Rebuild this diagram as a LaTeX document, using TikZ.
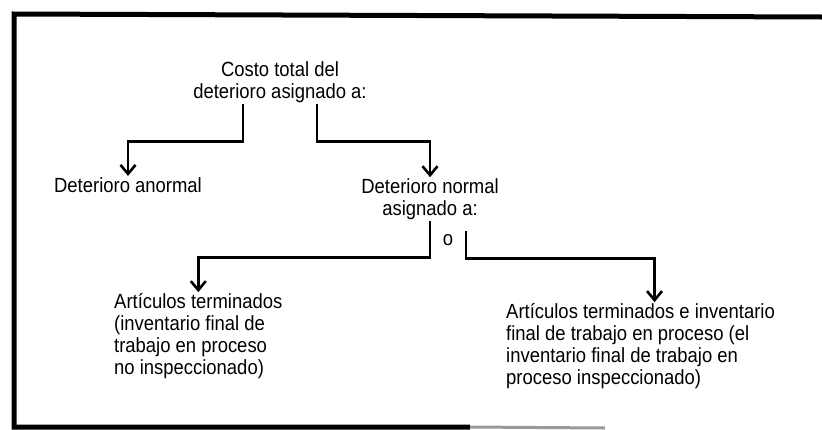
\documentclass[tikz,border=0pt]{standalone}
\usepackage{fontspec}
\setmainfont{Liberation Sans}[FakeStretch=0.9]
\usetikzlibrary{arrows.meta}

\begin{document}
\begin{tikzpicture}[x=1pt,y=-1pt,
  lbl/.style={font=\fontsize{20.5}{22}\selectfont,inner sep=1pt},
  link/.style={line width=2.6pt,-{Straight Barb[length=9pt,width=15pt]}}]
  \useasboundingbox (0,0) rectangle (822,429);
  \draw[line width=5pt] (822,17) -- (14,14) -- (14,427) -- (470,427);
  \draw[line width=3pt,black!40] (470,427) -- (605,428);
  \node[lbl,align=center] (cost) at (280,82) {Costo total del\\deterioro asignado a:};
  \node[lbl,anchor=base] (abn) at (128,192) {Deterioro anormal};
  \node[lbl,align=center] (nor) at (430,199) {Deterioro normal\\asignado a:};
  \node[lbl] (orsep) at (448,240) {o};
  \node[lbl,align=left,anchor=west] (fina) at (113,336) {Artículos terminados\\(inventario final de\\trabajo en proceso\\no inspeccionado)};
  \node[lbl,align=left,anchor=west] (finb) at (505,346) {Artículos terminados e inventario\\final de trabajo en proceso (el\\inventario final de trabajo en\\proceso inspeccionado)};
  \draw[link] ([xshift=-37pt]cost.south) -- ++(0,38) -| (abn.north);
  \draw[link] ([xshift=37pt]cost.south) -- ++(0,38) -| (nor.north);
  \draw[link] (nor.south) -- ++(0,37) -| (fina.north);
  \draw[link] ([xshift=36pt,yshift=-10pt]nor.south) -- ++(0,28) -| ([xshift=14pt]finb.north);
\end{tikzpicture}
\end{document}
